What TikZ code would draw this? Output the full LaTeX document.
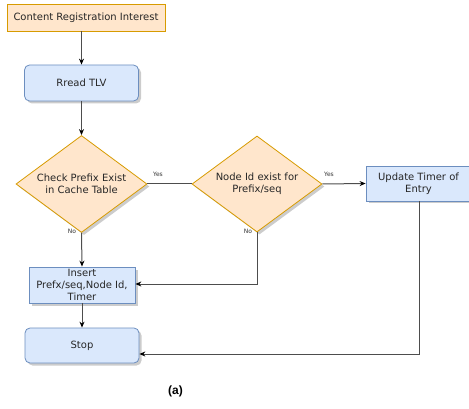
\documentclass[tikz,border=0pt]{standalone}
\usepackage{fontspec}
\setmainfont{DejaVu Sans}
\newfontfamily\capfont{Liberation Sans}
\usetikzlibrary{shapes.geometric,shadows,arrows.meta}

\definecolor{procfill}{HTML}{DAE8FC}
\definecolor{procline}{HTML}{6C8EBF}
\definecolor{decfill}{HTML}{FFE6CC}
\definecolor{decline}{HTML}{D79B00}
\definecolor{wire}{HTML}{4D4D4D}

\tikzset{
  x=1pt, y=-1pt,
  every node/.style={font=\fontsize{10}{12}\selectfont, inner sep=0pt, text=black!85},
  shade/.style={drop shadow={shadow xshift=2.5pt, shadow yshift=-2.5pt, fill=black!22, opacity=0.9}},
  startbox/.style={rectangle, draw=decline, fill=decfill, line width=0.8pt},
  procbox/.style={rectangle, draw=procline, fill=procfill, line width=0.8pt, shade},
  roundbox/.style={procbox, rounded corners=5pt},
  decision/.style={diamond, draw=decline, fill=decfill, line width=0.8pt, shade},
  flow/.style={draw=wire, line width=1pt, -{Stealth[length=6pt,width=5pt,inset=2pt,color=black]}},
  plain/.style={draw=wire, line width=1pt},
  tag/.style={font=\fontsize{6}{7}\selectfont, text=black!80},
}

\begin{document}
\begin{tikzpicture}
\useasboundingbox (0,0) rectangle (469,409);

% process steps
\node[startbox, minimum width=158pt, minimum height=27pt] (cri) at (86,17.5) {Content Registration Interest};
\node[roundbox, minimum width=114pt, minimum height=36pt] (tlv) at (81.5,83) {Rread TLV};
\node[decision, minimum width=131pt, minimum height=97pt,
      label={[align=center]center:Check Prefix Exist\\in Cache Table}] (chk) at (81.5,184) {};
\node[decision, minimum width=130pt, minimum height=96pt,
      label={[align=center]center:Node Id exist for\\Prefix/seq}] (nid) at (257,184) {};
\node[procbox, minimum width=105pt, minimum height=35pt, align=center] (upd) at (418.5,183.5) {Update Timer of\\Entry};
\node[procbox, minimum width=106pt, minimum height=36pt, align=center] (ins) at (82,285) {Insert\\Prefx/seq,Node Id,\\Timer};
\node[roundbox, minimum width=114pt, minimum height=35pt] (stop) at (82,345.5) {Stop};

% caption
\node[font=\capfont\bfseries\fontsize{12}{14}\selectfont, text=black] (cap) at (175.5,391) {(a)};

% bend points
\coordinate (c1) at (257,284);
\coordinate (c2) at (419,354);

% connectors
\draw[flow] (cri.south -| tlv.north) -- (tlv.north);
\draw[flow] (tlv.south) -- (chk.north);
\draw[plain] (chk.east) -- (nid.west);
\draw[flow] (nid.east) -- (upd.west);
\draw[flow] (chk.south) -- (ins.north);
\draw[flow] (nid.south) -- (c1) -- (ins.east |- c1);
\draw[flow] (ins.south) -- (stop.north);
\draw[flow] (upd.south -| c2) -- (c2) -- (stop.east |- c2);

% branch labels
\node[tag] (y1) at (158,174) {Yes};
\node[tag] (y2) at (329,174) {Yes};
\node[tag] (n1) at (72,231) {No};
\node[tag] (n2) at (248,231) {No};
\end{tikzpicture}
\end{document}
